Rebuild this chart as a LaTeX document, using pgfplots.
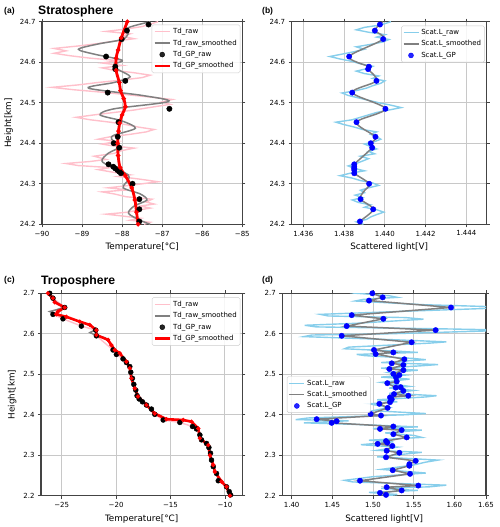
\documentclass[border=0pt]{standalone}
\usepackage{fontspec}
\setmainfont{DejaVu Sans}
\newfontfamily\arialfont{Liberation Sans}
\usepackage{pgfplots}
\pgfplotsset{compat=1.18}
\usepackage{pgfplotstable}
\definecolor{mpink}{HTML}{FFC0CB}
\definecolor{mgray}{HTML}{808080}
\definecolor{msky}{HTML}{87CEEB}
\definecolor{framec}{HTML}{444444}
\definecolor{gridc}{HTML}{C8C8C8}
\definecolor{legc}{HTML}{CCCCCC}

% ---------- (a) Stratosphere temperature ----------
\pgfplotstableread{
x y
-87.45 24.200
-87.30 24.205
-87.80 24.210
-87.55 24.215
-87.95 24.220
-88.40 24.225
-87.85 24.230
-87.60 24.235
-87.30 24.240
-87.55 24.245
-87.20 24.250
-87.40 24.255
-87.25 24.262
-87.90 24.268
-88.20 24.275
-88.50 24.280
-87.85 24.285
-88.35 24.290
-87.90 24.295
-87.50 24.300
-87.10 24.305
-87.60 24.312
-88.10 24.318
-87.80 24.322
-88.20 24.328
-88.60 24.335
-88.30 24.340
-89.10 24.345
-89.40 24.350
-88.80 24.355
-88.40 24.360
-88.70 24.368
-88.20 24.375
-88.00 24.382
-87.70 24.388
-88.20 24.393
-88.50 24.398
-88.10 24.405
-88.60 24.410
-88.30 24.416
-87.80 24.422
-87.40 24.428
-87.20 24.434
-87.60 24.440
-87.90 24.446
-88.30 24.452
-88.80 24.458
-89.15 24.464
-88.70 24.470
-88.20 24.476
-87.70 24.482
-87.20 24.490
-86.80 24.496
-87.00 24.502
-86.75 24.508
-87.30 24.514
-87.90 24.520
-88.50 24.526
-89.20 24.532
-89.75 24.538
-89.10 24.544
-88.60 24.550
-88.00 24.556
-87.50 24.562
-87.30 24.568
-87.70 24.574
-88.20 24.580
-88.50 24.586
-88.00 24.592
-88.50 24.598
-88.10 24.604
-88.80 24.610
-89.30 24.616
-89.70 24.622
-89.40 24.628
-89.70 24.634
-89.10 24.640
-88.60 24.646
-88.20 24.652
-87.70 24.658
-88.00 24.664
-87.80 24.670
-88.40 24.676
-87.90 24.682
-87.50 24.688
-87.30 24.694
-87.10 24.700
}\Araw
\pgfplotstableread{
x y
-87.30 24.200
-87.55 24.210
-87.84 24.227
-87.70 24.245
-87.38 24.260
-87.55 24.275
-87.97 24.290
-87.84 24.310
-87.85 24.322
-88.10 24.335
-88.50 24.355
-88.35 24.375
-88.05 24.392
-88.26 24.410
-88.20 24.420
-87.67 24.437
-88.00 24.455
-88.55 24.470
-88.20 24.485
-86.84 24.503
-87.50 24.518
-88.84 24.536
-88.20 24.550
-87.80 24.564
-88.10 24.582
-88.20 24.595
-88.00 24.605
-88.70 24.620
-89.09 24.632
-88.60 24.645
-88.00 24.656
-87.85 24.670
-87.85 24.685
-87.30 24.700
}\Asm
\pgfplotstableread{
x y
-87.34 24.693
-87.88 24.678
-88.01 24.657
-88.40 24.614
-88.17 24.589
-88.17 24.583
-87.92 24.554
-88.36 24.525
-86.82 24.485
-88.09 24.452
-88.11 24.416
-88.21 24.400
-88.07 24.389
-88.34 24.348
-88.22 24.342
-88.17 24.338
-88.12 24.334
-88.07 24.330
-88.03 24.326
-87.74 24.300
-87.57 24.262
-87.57 24.237
-87.57 24.207
}\Agp
\pgfplotstableread{
x y
-87.60 24.200
-87.64 24.230
-87.68 24.260
-87.76 24.290
-87.92 24.320
-88.05 24.340
-88.10 24.370
-88.11 24.400
-88.09 24.430
-88.06 24.450
-88.00 24.470
-87.92 24.490
-87.96 24.510
-88.04 24.530
-88.07 24.550
-88.15 24.580
-88.15 24.610
-88.10 24.630
-88.02 24.660
-87.87 24.700
}\Agps

% ---------- (b) Stratosphere scattered light ----------
\pgfplotstableread{
x y
1.43895 24.200
1.43860 24.206
1.43910 24.212
1.43930 24.218
1.43960 24.224
1.43995 24.230
1.43960 24.236
1.43900 24.242
1.43930 24.248
1.43870 24.254
1.43840 24.260
1.43890 24.266
1.43855 24.272
1.43900 24.278
1.43880 24.284
1.43920 24.290
1.43970 24.296
1.43940 24.302
1.43880 24.308
1.43840 24.314
1.43780 24.320
1.43830 24.326
1.43900 24.332
1.43850 24.338
1.43820 24.344
1.43860 24.350
1.43890 24.356
1.43920 24.362
1.43880 24.368
1.43950 24.374
1.43920 24.380
1.43960 24.386
1.43930 24.392
1.43900 24.398
1.43950 24.404
1.43980 24.410
1.43960 24.416
1.43930 24.422
1.43960 24.428
1.43890 24.434
1.43850 24.440
1.43800 24.446
1.43760 24.452
1.43840 24.458
1.43880 24.464
1.43920 24.470
1.43960 24.476
1.44020 24.482
1.44080 24.488
1.44030 24.494
1.43970 24.500
1.43920 24.506
1.43870 24.512
1.43820 24.518
1.43790 24.524
1.43860 24.530
1.43910 24.536
1.43940 24.542
1.43980 24.548
1.44000 24.554
1.43940 24.560
1.43970 24.566
1.43900 24.572
1.43860 24.578
1.43910 24.584
1.43940 24.590
1.43880 24.596
1.43840 24.602
1.43780 24.608
1.43730 24.614
1.43790 24.620
1.43850 24.626
1.43900 24.632
1.43860 24.638
1.43930 24.644
1.43990 24.650
1.44020 24.656
1.43960 24.662
1.44000 24.668
1.43920 24.674
1.43860 24.680
1.43900 24.686
1.43980 24.692
1.44030 24.700
}\Braw
\pgfplotstableread{
x y
1.43885 24.200
1.43878 24.207
1.43943 24.237
1.43881 24.262
1.43895 24.280
1.43923 24.300
1.43850 24.326
1.43850 24.338
1.43850 24.348
1.43938 24.389
1.43931 24.400
1.43954 24.416
1.43861 24.452
1.44003 24.485
1.43840 24.525
1.43959 24.554
1.43918 24.583
1.43922 24.589
1.43825 24.614
1.43992 24.657
1.43951 24.678
1.43976 24.693
1.43990 24.700
}\Bsm
\pgfplotstableread{
x y
1.43976 24.693
1.43951 24.678
1.43992 24.657
1.43825 24.614
1.43922 24.589
1.43918 24.583
1.43959 24.554
1.43840 24.525
1.44003 24.485
1.43861 24.452
1.43954 24.416
1.43931 24.400
1.43938 24.389
1.43850 24.348
1.43850 24.342
1.43850 24.338
1.43850 24.334
1.43850 24.326
1.43923 24.300
1.43881 24.262
1.43943 24.237
1.43878 24.207
}\Bgp

% ---------- (c) Troposphere temperature ----------
\pgfplotstableread{
x y
-26.10 2.700
-25.80 2.688
-24.72 2.665
-25.80 2.648
-24.88 2.637
-23.19 2.619
-21.87 2.609
-21.81 2.595
-20.28 2.560
-19.97 2.549
-19.36 2.538
-19.05 2.529
-18.74 2.519
-18.65 2.505
-18.50 2.490
-18.37 2.475
-18.19 2.461
-18.07 2.447
-17.88 2.439
-17.58 2.432
-17.21 2.424
-16.75 2.414
-16.44 2.401
-15.67 2.387
-14.14 2.381
-12.98 2.371
-12.61 2.365
-12.30 2.350
-12.15 2.338
-11.69 2.329
-11.47 2.319
-11.32 2.305
-11.23 2.288
-11.07 2.272
-10.77 2.255
-10.61 2.237
-9.85 2.222
-9.60 2.210
-9.48 2.202
}\Cgp
\pgfplotstableread{
x y
-26.30 2.700
-25.85 2.688
-25.40 2.676
-24.75 2.666
-25.40 2.660
-26.10 2.655
-25.60 2.649
-24.60 2.641
-23.30 2.630
-22.20 2.618
-21.90 2.610
-22.40 2.603
-22.00 2.598
-21.00 2.590
-20.50 2.575
-20.10 2.560
-19.60 2.550
-19.00 2.532
-18.70 2.515
-18.55 2.490
-18.25 2.465
-17.95 2.445
-17.20 2.424
-16.45 2.403
-15.40 2.390
-13.80 2.386
-13.00 2.382
-12.40 2.366
-12.25 2.342
-11.50 2.325
-11.35 2.300
-11.05 2.276
-10.90 2.259
-10.30 2.235
-9.80 2.222
-9.50 2.200
}\Csm
\pgfplotstableread{
x y
-26.26 2.700
-25.80 2.688
-25.64 2.678
-24.72 2.665
-25.34 2.655
-25.50 2.648
-24.57 2.642
-23.34 2.630
-22.42 2.622
-21.81 2.609
-21.81 2.597
-20.74 2.585
-20.43 2.572
-20.12 2.560
-19.66 2.552
-19.05 2.531
-18.74 2.515
-18.59 2.490
-18.28 2.465
-17.98 2.445
-17.21 2.424
-16.44 2.403
-15.37 2.389
-13.83 2.387
-13.07 2.383
-12.45 2.366
-12.30 2.342
-11.53 2.325
-11.38 2.300
-11.07 2.276
-10.92 2.259
-10.31 2.235
-9.85 2.222
-9.54 2.200
}\Cgps

% ---------- (d) Troposphere scattered light ----------
\pgfplotstableread{
x y
1.4950 2.704
1.4800 2.700
1.5200 2.694
1.5300 2.690
1.4880 2.685
1.4780 2.681
1.5600 2.672
1.6450 2.667
1.6450 2.663
1.5300 2.655
1.4350 2.648
1.4450 2.644
1.5400 2.640
1.5620 2.636
1.4800 2.626
1.4160 2.621
1.4300 2.617
1.5900 2.612
1.6450 2.610
1.6400 2.607
1.5200 2.600
1.4250 2.597
1.4150 2.593
1.5300 2.585
1.5900 2.580
1.5700 2.577
1.4700 2.567
1.4650 2.563
1.5300 2.557
1.5550 2.554
1.4800 2.549
1.4900 2.546
1.5500 2.539
1.5650 2.536
1.5100 2.529
1.5800 2.524
1.5600 2.521
1.5100 2.515
1.5550 2.510
1.5200 2.504
1.5400 2.498
1.5100 2.493
1.5450 2.488
1.5100 2.480
1.5450 2.470
1.5200 2.466
1.5500 2.460
1.5200 2.453
1.5780 2.447
1.5650 2.444
1.5050 2.437
1.5300 2.432
1.4950 2.427
1.5200 2.418
1.5000 2.410
1.5650 2.403
1.5400 2.400
1.4200 2.392
1.4050 2.388
1.4700 2.385
1.4150 2.380
1.4800 2.376
1.5550 2.370
1.5000 2.366
1.5600 2.362
1.5150 2.355
1.5500 2.349
1.5600 2.344
1.4950 2.337
1.5250 2.333
1.4850 2.326
1.5300 2.320
1.5050 2.312
1.5600 2.307
1.5050 2.296
1.5800 2.288
1.5650 2.283
1.5500 2.276
1.5100 2.265
1.5650 2.256
1.5000 2.247
1.4650 2.238
1.4750 2.234
1.5900 2.226
1.5700 2.222
1.5100 2.218
1.5550 2.213
1.4950 2.208
1.5300 2.203
1.5100 2.198
}\Draw
\pgfplotstableread{
x y
1.4992 2.700
1.5119 2.690
1.4951 2.682
1.5959 2.665
1.4738 2.646
1.5127 2.637
1.4676 2.619
1.5770 2.609
1.4615 2.595
1.5475 2.579
1.5012 2.560
1.5250 2.554
1.5033 2.550
1.5385 2.537
1.5230 2.527
1.5373 2.523
1.5201 2.513
1.5373 2.510
1.5250 2.501
1.5324 2.498
1.5283 2.492
1.5291 2.482
1.5176 2.478
1.5279 2.467
1.5340 2.468
1.5373 2.459
1.5258 2.451
1.5434 2.447
1.5209 2.443
1.5230 2.438
1.5209 2.431
1.5078 2.427
1.5180 2.417
1.4971 2.402
1.5098 2.398
1.4307 2.389
1.4553 2.384
1.4492 2.380
1.5250 2.371
1.5086 2.365
1.5352 2.362
1.5250 2.352
1.5414 2.344
1.5160 2.335
1.5176 2.331
1.5057 2.328
1.5238 2.323
1.5168 2.311
1.5324 2.306
1.5160 2.295
1.5525 2.286
1.5447 2.278
1.5447 2.274
1.5242 2.263
1.5455 2.254
1.4840 2.237
1.5557 2.225
1.5168 2.221
1.5352 2.213
1.5086 2.207
1.5160 2.202
}\Dgp

\pgfplotsset{
  myax/.style={
    scale only axis, anchor=south west,
    axis line style={framec, line width=1.2pt},
    grid=major, grid style={gridc, line width=0.9pt},
    tick align=outside, major tick length=3pt,
    tick style={framec, line width=0.7pt},
    ticklabel style={font=\fontsize{7}{8}\selectfont},
    /pgf/number format/assume math mode=true,
    label style={font=\fontsize{8.8}{10}\selectfont},
    legend style={font=\fontsize{7}{8.8}\selectfont, draw=legc,
      rounded corners=1.5pt, fill=white, fill opacity=0.85, draw opacity=1,
      text opacity=1, inner sep=1.4pt, row sep=0.6pt},
    legend cell align=left,
    legend image code/.code={\draw[##1] (0pt,0pt) -- (15pt,0pt);},
  },
  dotleg/.style={legend image code/.code={\fill[##1] (7.5pt,0pt) circle (2.5pt);}},
}

\begin{document}
\begin{tikzpicture}
\useasboundingbox (0pt,0pt) rectangle (500pt,527pt);

% ----- (a)
\begin{axis}[myax, at={(42pt,302.7pt)}, width=200.3pt, height=202.6pt,
  xmin=-90, xmax=-85, ymin=24.2, ymax=24.7,
  xtick={-90,-89,-88,-87,-86,-85}, xticklabels={−90,−89,−88,−87,−86,−85},
  ytick={24.2,24.3,24.4,24.5,24.6,24.7}, yticklabels={24.2,24.3,24.4,24.5,24.6,24.7},
  xlabel={Temperature[°C]}, ylabel={Height[km]},
  legend style={at={(0.99,0.985)}, anchor=north east}]
\addplot[mpink, line width=1.4pt] table[x=x,y=y]{\Araw};
\addlegendentry{Td\_raw}
\addplot[mgray, line width=1.5pt, smooth] table[x=x,y=y]{\Asm};
\addlegendentry{Td\_raw\_smoothed}
\addplot[black, only marks, mark=*, mark size=2.7pt, dotleg] table[x=x,y=y]{\Agp};
\addlegendentry{Td\_GP\_raw}
\addplot[red, line width=2.8pt, smooth, mark=*, mark size=0.5pt] table[x=x,y=y]{\Agps};
\addlegendentry{Td\_GP\_smoothed}
\end{axis}

% ----- (b)
\begin{axis}[myax, at={(291.7pt,302.7pt)}, width=195pt, height=202.6pt,
  xmin=1.43543, xmax=1.445, ymin=24.2, ymax=24.7,
  xtick={1.436,1.438,1.440,1.442,1.444}, xticklabels={1.436,1.438,1.440,1.442,1.444},
  ytick={24.2,24.3,24.4,24.5,24.6,24.7}, yticklabels={24.2,24.3,24.4,24.5,24.6,24.7},
  xlabel={Scattered light[V]},
  legend style={at={(0.99,0.98)}, anchor=north east}]
\addplot[msky, line width=1.4pt] table[x=x,y=y]{\Braw};
\addlegendentry{Scat.L\_raw}
\addplot[mgray, line width=1.5pt, smooth] table[x=x,y=y]{\Bsm};
\addlegendentry{Scat.L\_smoothed}
\addplot[blue, only marks, mark=*, mark size=2.7pt, dotleg] table[x=x,y=y]{\Bgp};
\addlegendentry{Scat.L\_GP}
\end{axis}

% ----- (c)
\begin{axis}[myax, at={(41pt,31.3pt)}, width=201.3pt, height=202.4pt,
  xmin=-26.9, xmax=-8.4, ymin=2.2, ymax=2.7,
  xtick={-25,-20,-15,-10}, xticklabels={−25,−20,−15,−10},
  ytick={2.2,2.3,2.4,2.5,2.6,2.7}, yticklabels={2.2,2.3,2.4,2.5,2.6,2.7},
  xlabel={Temperature[°C]}, ylabel={Height[km]},
  legend style={at={(0.99,0.98)}, anchor=north east}]
\addplot[mpink, line width=1.4pt] table[x=x,y=y]{\Cgp};
\addlegendentry{Td\_raw}
\addplot[mgray, line width=1.5pt] table[x=x,y=y]{\Csm};
\addlegendentry{Td\_raw\_smoothed}
\addplot[black, only marks, mark=*, mark size=2.5pt, dotleg] table[x=x,y=y]{\Cgp};
\addlegendentry{Td\_GP\_raw}
\addplot[red, line width=2.6pt, mark=*, mark size=0.5pt] table[x=x,y=y]{\Cgps};
\addlegendentry{Td\_GP\_smoothed}
\end{axis}

% ----- (d)
\begin{axis}[myax, at={(282.3pt,31.3pt)}, width=203.7pt, height=202.4pt,
  xmin=1.3885, xmax=1.6389, ymin=2.2, ymax=2.7,
  xtick={1.40,1.45,1.50,1.55,1.60,1.6389}, xticklabels={1.40,1.45,1.50,1.55,1.60,1.65},
  ytick={2.2,2.3,2.4,2.5,2.6,2.7}, yticklabels={2.2,2.3,2.4,2.5,2.6,2.7},
  xlabel={Scattered light[V]},
  legend style={at={(0.023,0.59)}, anchor=north west}]
\addplot[msky, line width=1.4pt] table[x=x,y=y]{\Draw};
\addlegendentry{Scat.L\_raw}
\addplot[mgray, line width=1.5pt] table[x=x,y=y]{\Dgp};
\addlegendentry{Scat.L\_smoothed}
\addplot[blue, only marks, mark=*, mark size=2.7pt, dotleg] table[x=x,y=y]{\Dgp};
\addlegendentry{Scat.L\_GP}
\end{axis}

% ----- panel titles
\node[anchor=west, font=\arialfont\bfseries\fontsize{8.5}{10}\selectfont, inner sep=0pt] at (4pt,516pt) {(a)};
\node[anchor=west, font=\arialfont\bfseries\fontsize{12.2}{14}\selectfont, inner sep=0pt] at (38pt,516pt) {Stratosphere};
\node[anchor=west, font=\arialfont\bfseries\fontsize{8.5}{10}\selectfont, inner sep=0pt] at (262pt,516pt) {(b)};
\node[anchor=west, font=\arialfont\bfseries\fontsize{8.5}{10}\selectfont, inner sep=0pt] at (4pt,247pt) {(c)};
\node[anchor=west, font=\arialfont\bfseries\fontsize{12.2}{14}\selectfont, inner sep=0pt] at (41pt,246pt) {Troposphere};
\node[anchor=west, font=\arialfont\bfseries\fontsize{8.5}{10}\selectfont, inner sep=0pt] at (262pt,247pt) {(d)};
\end{tikzpicture}
\end{document}
